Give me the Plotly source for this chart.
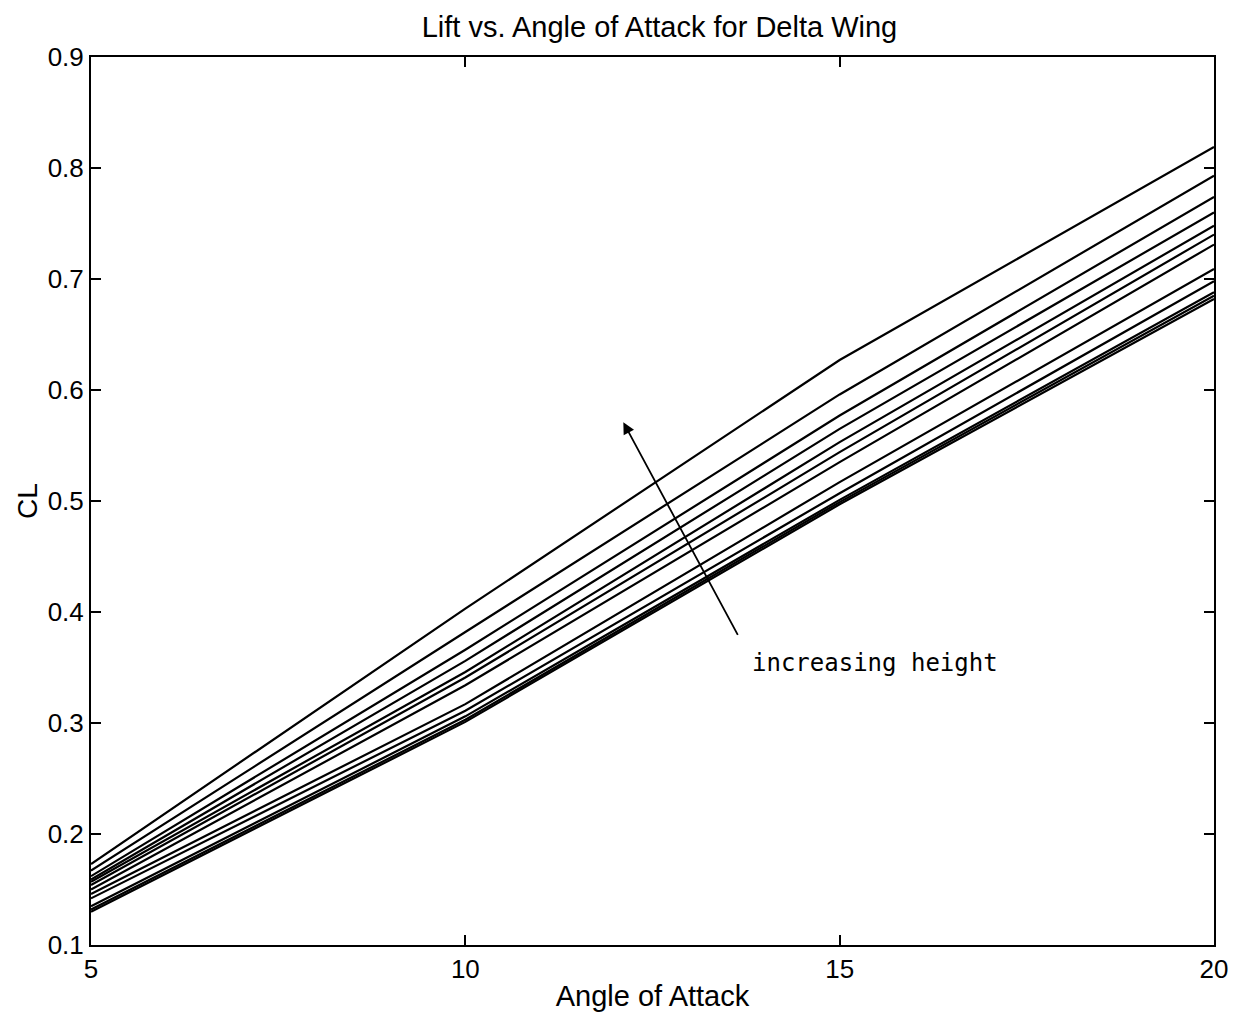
import plotly.graph_objects as go

# Angle of attack (deg)
alpha = [5, 10, 15, 20]

# CL curves, from highest ground height (top) to lowest
cl_h1 = [0.173, 0.403, 0.627, 0.819]
cl_h2 = [0.167, 0.382, 0.596, 0.793]
cl_h3 = [0.162, 0.366, 0.577, 0.774]
cl_h4 = [0.159, 0.356, 0.565, 0.760]
cl_h5 = [0.157, 0.346, 0.553, 0.748]
cl_h6 = [0.154, 0.341, 0.544, 0.740]
cl_h7 = [0.150, 0.334, 0.535, 0.731]
cl_h8 = [0.146, 0.317, 0.517, 0.709]
cl_h9 = [0.142, 0.311, 0.507, 0.698]
cl_h10 = [0.135, 0.306, 0.501, 0.688]
cl_h11 = [0.132, 0.303, 0.499, 0.685]
cl_h12 = [0.130, 0.301, 0.497, 0.682]

curves = [cl_h1, cl_h2, cl_h3, cl_h4, cl_h5, cl_h6,
          cl_h7, cl_h8, cl_h9, cl_h10, cl_h11, cl_h12]

x_ticks = [5, 10, 15, 20]
y_ticks = [0.1, 0.2, 0.3, 0.4, 0.5, 0.6, 0.7, 0.8, 0.9]

fig = go.Figure()
for c in curves:
    fig.add_trace(go.Scatter(x=alpha, y=c, mode="lines",
                             line=dict(color="black", width=2.2),
                             showlegend=False, hoverinfo="skip"))

font_main = "Liberation Sans, Arial, sans-serif"

fig.add_annotation(x=12.11, y=0.571, ax=13.65, ay=0.378,
                   xref="x", yref="y", axref="x", ayref="y",
                   showarrow=True, arrowhead=2, arrowsize=1.3,
                   arrowwidth=1.8, arrowcolor="black", text="")
fig.add_annotation(x=13.80, y=0.354, xref="x", yref="y",
                   text="increasing height", showarrow=False,
                   xanchor="left", yanchor="middle",
                   font=dict(family="DejaVu Sans Mono, monospace",
                             size=24, color="black"))

fig.update_layout(
    width=1249, height=1024,
    margin=dict(l=91, r=35, t=57, b=79),
    paper_bgcolor="white", plot_bgcolor="white",
    title=dict(text="Lift vs. Angle of Attack for Delta Wing",
               x=0.528, xanchor="center", y=0.974, yanchor="middle",
               font=dict(family=font_main, size=29, color="black")),
    font=dict(family=font_main, size=26, color="black"),
)
fig.update_xaxes(range=[5, 20], tickvals=x_ticks,
                 ticks="inside", ticklen=10, tickwidth=1.5, tickcolor="black",
                 showline=True, linecolor="black", linewidth=2, mirror="ticks",
                 showgrid=False, zeroline=False,
                 title=dict(text="Angle of Attack", standoff=2,
                            font=dict(size=29)),
                 tickfont=dict(size=26))
fig.update_yaxes(range=[0.1, 0.9], tickvals=y_ticks, tickformat=".1f",
                 ticks="inside", ticklen=10, tickwidth=1.5, tickcolor="black",
                 showline=True, linecolor="black", linewidth=2, mirror="ticks",
                 showgrid=False, zeroline=False,
                 title=dict(text="CL", standoff=2, font=dict(size=28)),
                 tickfont=dict(size=26))

fig.write_html("out.html")
